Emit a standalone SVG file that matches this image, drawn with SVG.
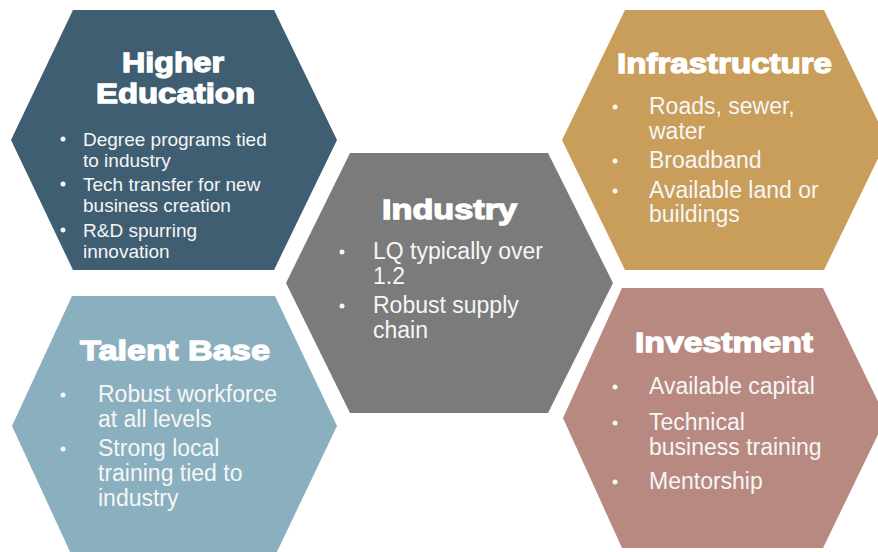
<svg xmlns="http://www.w3.org/2000/svg" width="878" height="552" viewBox="0 0 878 552">
  <style>
    .title { font-family: "Liberation Sans", Arial, sans-serif; font-weight: bold; font-size: 28.5px; fill: #ffffff; stroke: #ffffff; stroke-width: 1.3px; text-anchor: middle; }
    .body { font-family: "Liberation Sans", Arial, sans-serif; font-size: 23px; fill: #f6f6f6; }
    .small { font-size: 19px; }
    .dot { fill: #f6f6f6; }
  </style>
  <rect width="878" height="552" fill="#ffffff"/>

  <g id="higher-education">
    <polygon points="73,10 274,10 337,140 274,270 73,270 11,140" fill="#3f5e72"/>
    <text class="title" x="173" y="72" textLength="102" lengthAdjust="spacingAndGlyphs">Higher</text>
    <text class="title" x="175.5" y="103" textLength="159" lengthAdjust="spacingAndGlyphs">Education</text>
    <circle class="dot" cx="63" cy="139" r="2.5"/>
    <circle class="dot" cx="63" cy="184" r="2.5"/>
    <circle class="dot" cx="63" cy="230" r="2.5"/>
    <text class="body small" x="83" y="146">Degree programs tied</text>
    <text class="body small" x="83" y="167">to industry</text>
    <text class="body small" x="83" y="191">Tech transfer for new</text>
    <text class="body small" x="83" y="212">business creation</text>
    <text class="body small" x="83" y="237">R&amp;D spurring</text>
    <text class="body small" x="83" y="258">innovation</text>
  </g>

  <g id="industry">
    <polygon points="350,153 548,153 613,283 548,413 350,413 286,283" fill="#7b7b7b"/>
    <text class="title" x="449.5" y="219" textLength="135" lengthAdjust="spacingAndGlyphs">Industry</text>
    <circle class="dot" cx="342" cy="252" r="2.5"/>
    <circle class="dot" cx="342" cy="306" r="2.5"/>
    <text class="body" x="373" y="259">LQ typically over</text>
    <text class="body" x="373" y="284">1.2</text>
    <text class="body" x="373" y="313">Robust supply</text>
    <text class="body" x="373" y="338">chain</text>
  </g>

  <g id="infrastructure">
    <polygon points="625,10 824,10 887,140 824,270 625,270 562,140" fill="#c99d5a"/>
    <text class="title" x="724.5" y="73" textLength="215" lengthAdjust="spacingAndGlyphs">Infrastructure</text>
    <circle class="dot" cx="615" cy="107" r="2.5"/>
    <circle class="dot" cx="615" cy="161" r="2.5"/>
    <circle class="dot" cx="615" cy="191" r="2.5"/>
    <text class="body" x="649" y="114">Roads, sewer,</text>
    <text class="body" x="649" y="139">water</text>
    <text class="body" x="649" y="168">Broadband</text>
    <text class="body" x="649" y="198">Available land or</text>
    <text class="body" x="649" y="222">buildings</text>
  </g>

  <g id="talent-base">
    <polygon points="72,296 275,296 337,426 275,556 72,556 12,426" fill="#8aafbf"/>
    <text class="title" x="175" y="360" textLength="190" lengthAdjust="spacingAndGlyphs">Talent Base</text>
    <circle class="dot" cx="63" cy="395" r="2.5"/>
    <circle class="dot" cx="63" cy="449" r="2.5"/>
    <text class="body" x="98" y="402">Robust workforce</text>
    <text class="body" x="98" y="427">at all levels</text>
    <text class="body" x="98" y="456">Strong local</text>
    <text class="body" x="98" y="481">training tied to</text>
    <text class="body" x="98" y="506">industry</text>
  </g>

  <g id="investment">
    <polygon points="622,288 823,288 886,418 823,548 622,548 563,418" fill="#b78981"/>
    <text class="title" x="724" y="352" textLength="178" lengthAdjust="spacingAndGlyphs">Investment</text>
    <circle class="dot" cx="615" cy="387" r="2.5"/>
    <circle class="dot" cx="615" cy="423" r="2.5"/>
    <circle class="dot" cx="615" cy="482" r="2.5"/>
    <text class="body" x="649" y="394">Available capital</text>
    <text class="body" x="649" y="430">Technical</text>
    <text class="body" x="649" y="455">business training</text>
    <text class="body" x="649" y="489">Mentorship</text>
  </g>

  <g id="connectors"/>
</svg>
